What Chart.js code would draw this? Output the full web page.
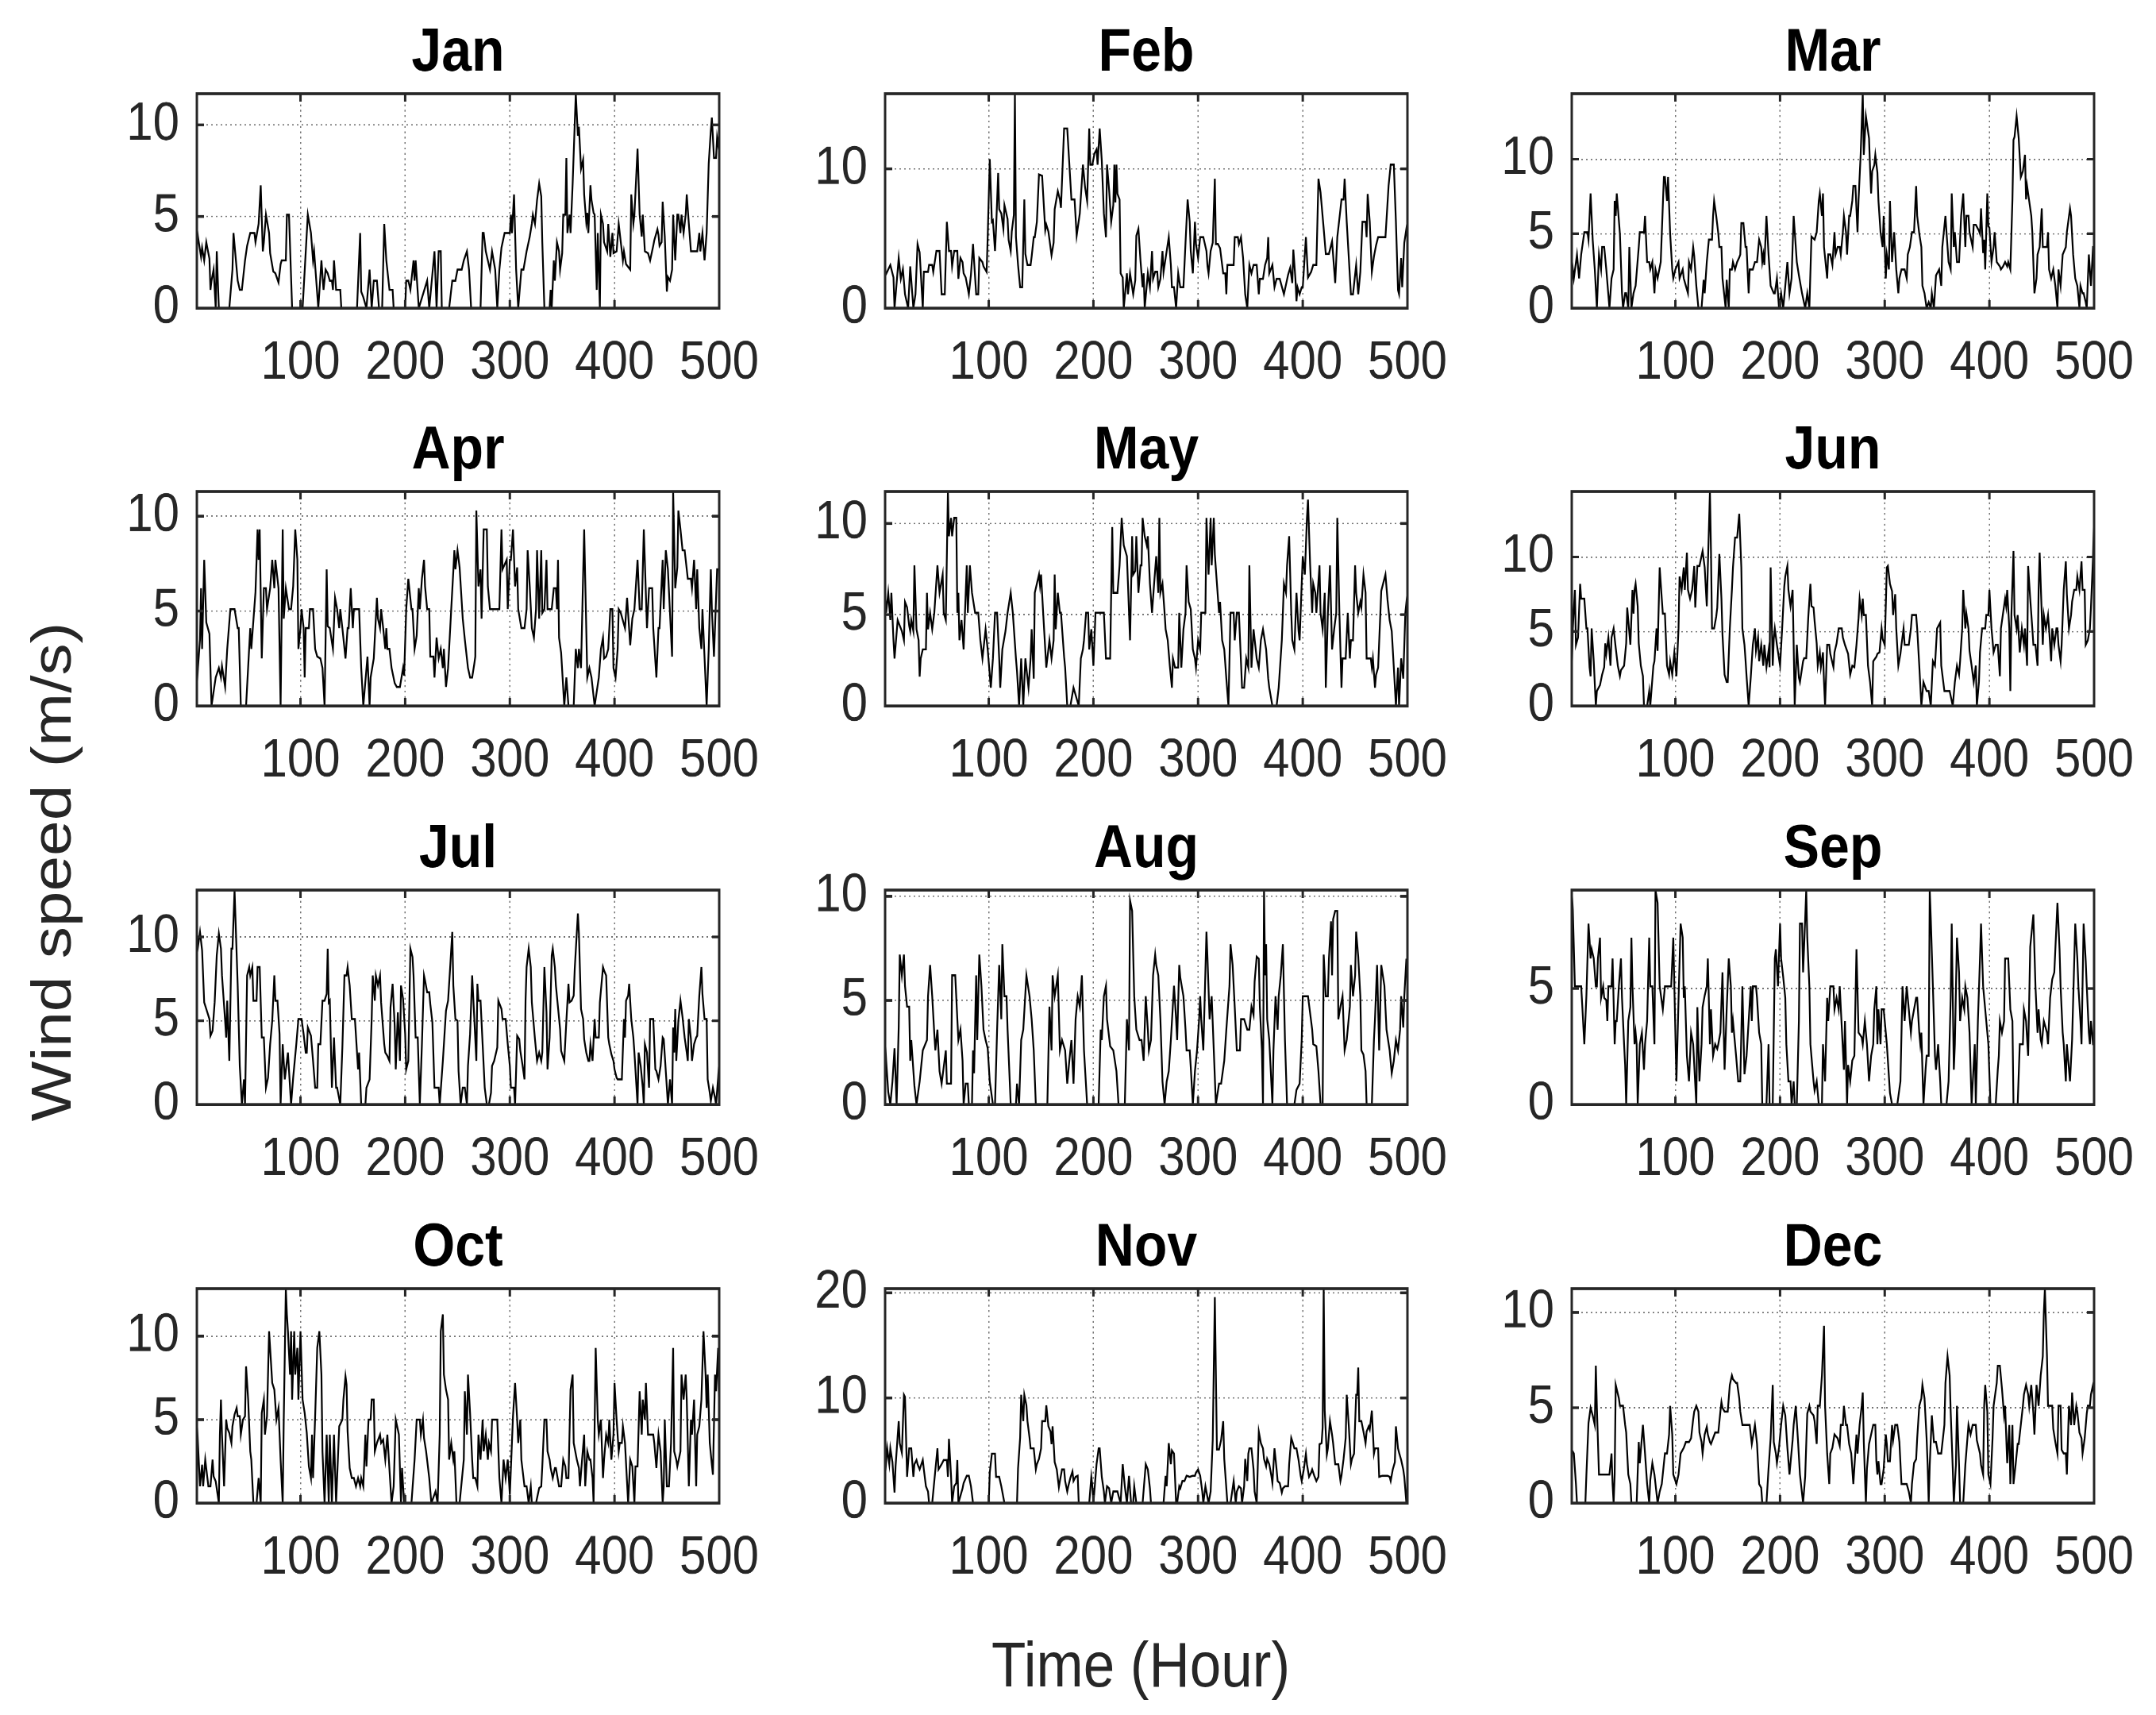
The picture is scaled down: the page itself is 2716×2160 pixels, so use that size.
<!DOCTYPE html>
<html><head><meta charset="utf-8">
<script src="https://cdn.jsdelivr.net/npm/chart.js@4.4.0/dist/chart.umd.min.js"></script>
<style>
html,body{margin:0;padding:0;background:#fff;}
#root{position:relative;width:2716px;height:2160px;background:#fff;overflow:hidden;font-family:'Liberation Sans',Arial,sans-serif;}
#root canvas{position:absolute;transform-origin:0 0;}
.lab{position:absolute;color:#262626;white-space:nowrap;line-height:1;}
</style></head><body><div id="root">
<div class="lab" id="xlab">Time (Hour)</div>
<div class="lab" id="ylab">Wind speed (m/s)</div>
</div>
<script>
const monthNames = ['Jan','Feb','Mar','Apr','May','Jun','Jul','Aug','Sep','Oct','Nov','Dec'];
const hourTicks = [100,200,300,400,500];
const speedTickStep = [5,10,5,5,5,5,5,5,5,5,10,5];

// [hour, wind speed m/s]
const jan = [[1,4.4],[2,3.9],[5,2.8],[6,3.3],[8,2.6],[10,3.6],[13,2.7],[14,1.0],[15,1.5],[17,2.1],[19,0],[20,3.1],[22,0],[32,0],[35,2.1],[36,4.1],[40,1.5],[42,1.0],[44,1.0],[47,2.6],[49,3.4],[52,4.1],[56,4.1],[57,3.6],[60,4.6],[62,6.7],[64,3.1],[65,3.6],[67,5.1],[70,4.1],[71,3.0],[74,2.0],[76,1.9],[79,1.4],[81,2.4],[82,2.6],[86,2.6],[87,5.1],[89,5.1],[92,0],[102,0],[107,5.1],[110,4.1],[112,2.6],[113,3.1],[117,0],[120,2.6],[122,1.0],[124,2.1],[126,1.9],[128,1.5],[130,1.5],[131,1.0],[132,2.6],[134,1.0],[138,1.0],[139,0],[154,0],[157,4.1],[158,0.9],[160,0.6],[162,0.2],[163,0],[166,2.1],[168,0],[170,1.5],[173,1.5],[175,0],[178,0],[180,4.6],[182,2.6],[185,1.0],[188,1.0],[189,0],[200,0],[201,1.5],[203,1.5],[205,1.0],[208,2.6],[209,1.5],[210,2.6],[213,0],[221,1.5],[223,0],[228,3.1],[230,0],[232,3.1],[234,3.1],[235,0],[242,0],[245,1.5],[248,1.5],[250,2.1],[254,2.1],[256,2.6],[259,3.1],[261,2.1],[263,0],[272,0],[274,4.1],[275,4.1],[277,3.1],[279,2.6],[281,2.1],[283,3.1],[286,2.1],[288,0],[290,2.1],[292,3.3],[295,4.1],[300,4.1],[301,5.1],[302,4.1],[304,6.2],[306,2.1],[308,0],[311,2.1],[313,2.1],[316,3.1],[319,3.9],[321,4.6],[322,5.1],[324,4.6],[326,5.9],[328,6.8],[330,6.1],[331,3.6],[333,0],[338,0],[339,1.0],[340,0],[342,2.6],[343,1.5],[345,3.6],[347,3.1],[348,2.1],[350,3.0],[351,5.1],[353,5.1],[354,8.2],[355,4.1],[357,5.1],[358,4.1],[360,6.8],[363,11.7],[365,9.4],[366,9.9],[368,7.6],[370,8.1],[371,6.2],[373,4.7],[374,5.2],[375,4.1],[377,6.7],[378,5.9],[380,5.2],[381,5.1],[383,1.0],[384,4.1],[386,0],[387,5.1],[389,4.6],[390,3.6],[393,3.1],[394,4.6],[396,2.8],[398,4.1],[399,3.0],[402,3.1],[404,4.6],[406,3.6],[408,2.6],[409,3.1],[411,2.4],[415,2.1],[416,6.2],[418,4.6],[419,5.1],[422,8.7],[424,5.1],[426,3.9],[427,5.1],[429,3.1],[432,3.0],[434,2.6],[437,3.4],[438,3.7],[441,4.3],[442,4.0],[443,3.4],[445,3.6],[446,5.8],[448,3.9],[450,0.9],[451,1.7],[453,1.5],[455,2.1],[456,5.1],[458,2.6],[460,5.1],[461,5.1],[463,4.1],[464,5.1],[466,4.1],[468,5.1],[469,6.2],[471,4.6],[473,3.1],[479,3.1],[481,4.1],[482,3.1],[484,4.1],[486,2.6],[488,4.1],[490,7.9],[492,9.7],[493,10.4],[495,8.2],[497,8.2],[498,9.3],[500,8.5]];
const feb = [[1,2.3],[6,3.1],[9,2.2],[10,0],[14,3.6],[16,2.1],[18,2.8],[20,1.0],[23,0],[25,3.0],[28,0],[30,1.0],[32,4.6],[34,4.0],[37,0],[38,2.6],[42,2.6],[43,3.1],[46,3.1],[47,2.6],[50,4.1],[53,4.1],[55,1.0],[58,1.0],[60,6.2],[62,4.1],[64,4.1],[65,3.0],[67,4.1],[70,4.1],[71,2.1],[73,3.6],[75,3.3],[76,2.5],[78,2.2],[81,1.0],[83,2.4],[85,4.6],[88,1.0],[90,1.0],[91,3.6],[94,3.3],[95,3.0],[98,2.6],[99,5.1],[101,10.7],[103,6.2],[104,6.3],[106,4.1],[107,5.7],[109,9.7],[110,7.1],[112,6.8],[114,5.7],[115,7.4],[118,6.4],[119,4.9],[121,4.1],[122,5.5],[124,6.7],[125,15.4],[126,5.1],[128,3.1],[130,1.5],[132,1.5],[134,7.8],[135,3.9],[137,3.1],[140,3.1],[141,3.7],[143,5.1],[144,5.1],[146,6.2],[148,9.6],[151,9.5],[154,5.6],[155,6.0],[157,5.5],[160,3.8],[162,4.7],[163,7.1],[166,8.4],[168,7.8],[169,7.2],[172,12.9],[175,12.9],[179,7.8],[182,7.8],[184,5.2],[187,6.8],[190,10.3],[192,8.7],[194,7.7],[196,12.9],[197,10.3],[199,10.3],[201,11.1],[203,11.4],[204,10.3],[206,12.9],[208,10.6],[210,6.8],[212,5.1],[213,10.3],[215,8.5],[217,6.2],[219,7.4],[220,10.3],[221,7.6],[222,10.3],[223,8.2],[225,7.8],[226,2.5],[228,2.2],[229,0],[232,2.5],[233,1.0],[235,2.5],[238,1.0],[240,2.0],[241,5.2],[243,5.7],[245,3.4],[247,1.5],[248,2.5],[249,0],[252,2.5],[254,1.5],[256,4.1],[257,2.1],[259,2.6],[261,2.6],[262,1.5],[264,2.1],[266,4.1],[267,2.6],[270,4.1],[272,5.1],[274,3.1],[275,1.5],[277,1.5],[279,0],[281,2.5],[283,1.5],[286,1.5],[288,4.7],[290,7.8],[292,6.2],[293,4.1],[295,2.5],[297,6.2],[298,4.6],[300,3.6],[302,5.1],[305,5.1],[308,4.1],[309,3.0],[310,2.5],[312,4.1],[314,4.7],[316,9.3],[317,4.6],[319,4.6],[321,4.3],[324,2.5],[326,2.5],[327,1.0],[328,3.1],[334,3.1],[335,5.1],[338,5.1],[339,4.6],[341,5.1],[343,3.6],[345,1.0],[347,0],[349,3.1],[351,2.5],[353,3.1],[356,3.1],[358,1.0],[359,2.1],[362,2.1],[364,3.1],[366,3.6],[367,5.1],[368,2.5],[371,3.1],[373,1.5],[375,2.1],[378,2.1],[382,1.0],[386,2.4],[388,2.9],[390,1.8],[391,4.2],[393,2.1],[394,0.5],[395,1.5],[397,1.0],[399,1.5],[400,1.5],[403,5.1],[405,2.2],[408,2.6],[410,3.1],[413,3.1],[415,9.3],[417,8.3],[420,5.7],[422,3.9],[425,3.9],[428,4.8],[431,1.8],[433,5.1],[436,7.1],[437,7.8],[439,7.8],[440,9.3],[442,6.2],[446,1.0],[448,1.0],[451,3.1],[453,1.0],[455,2.6],[457,6.2],[460,6.2],[461,5.1],[462,8.2],[464,6.2],[466,2.6],[468,3.7],[470,4.5],[472,5.1],[479,5.1],[482,8.8],[484,10.3],[487,10.3],[489,6.2],[491,1.3],[492,1.0],[494,3.6],[495,1.5],[497,4.7],[500,6.2]];
const mar = [[1,3.3],[3,2.0],[6,3.6],[8,2.0],[10,3.6],[12,4.6],[13,5.1],[16,5.1],[17,4.6],[19,7.7],[21,4.6],[23,2.6],[25,0],[27,3.6],[29,2.6],[30,4.1],[32,4.1],[34,2.6],[37,0],[39,2.0],[41,2.6],[42,7.2],[43,6.2],[44,7.7],[47,5.0],[49,1.0],[50,0],[52,1.0],[53,1.0],[55,0],[56,4.1],[58,0],[60,1.0],[62,1.5],[65,4.1],[66,5.1],[70,5.1],[71,6.2],[73,3.1],[75,3.1],[76,2.6],[78,3.1],[80,1.0],[81,2.6],[83,2.0],[86,3.1],[89,8.8],[90,8.8],[92,7.2],[93,8.8],[95,5.0],[97,2.6],[98,2.0],[100,2.6],[103,3.1],[104,2.0],[107,2.6],[108,2.0],[110,1.5],[112,1.0],[113,3.1],[115,2.6],[117,4.1],[118,3.5],[120,1.5],[122,0],[125,0],[127,1.9],[128,1.0],[130,3.1],[132,4.6],[135,4.6],[136,6.2],[137,7.2],[139,6.2],[141,5.0],[142,4.1],[144,4.1],[145,2.0],[148,0],[149,1.9],[151,0],[152,2.6],[154,2.6],[155,3.1],[157,2.6],[159,3.1],[161,3.4],[162,3.6],[163,5.7],[165,5.7],[167,4.1],[168,4.1],[170,1.0],[171,2.6],[174,2.6],[176,3.1],[178,3.1],[180,4.6],[182,4.1],[183,3.1],[184,3.6],[185,2.9],[187,6.2],[189,3.6],[191,1.5],[194,1.0],[195,1.0],[197,2.0],[199,0],[201,1.0],[203,0],[205,1.5],[207,3.1],[209,1.0],[211,2.0],[213,6.2],[216,3.1],[218,2.2],[221,1.0],[224,0],[226,1.0],[228,0],[230,4.8],[233,4.6],[235,5.1],[237,7.2],[238,7.7],[240,6.2],[241,7.7],[242,4.1],[245,2.0],[246,3.6],[248,3.6],[250,2.9],[252,5.1],[253,3.6],[255,4.1],[257,4.1],[258,3.6],[260,5.1],[261,6.2],[263,5.1],[264,3.6],[266,6.2],[267,6.2],[269,7.2],[270,8.2],[272,8.2],[274,5.1],[275,7.3],[277,10.3],[279,14.4],[280,10.3],[282,12.9],[285,11.4],[286,9.4],[287,7.7],[288,9.2],[290,9.6],[291,10.3],[293,9.1],[294,7.2],[296,5.1],[298,4.1],[299,6.2],[301,2.0],[302,3.6],[304,2.6],[305,7.2],[307,3.1],[309,5.1],[311,2.6],[313,1.0],[314,2.0],[316,2.6],[319,2.6],[321,2.0],[322,3.6],[324,4.1],[326,5.1],[328,5.1],[330,8.2],[331,6.2],[333,5.0],[335,4.1],[336,1.5],[338,1.0],[340,0],[342,0.4],[344,0],[345,1.0],[347,0],[349,2.2],[352,2.6],[354,1.5],[355,4.1],[358,6.2],[359,5.1],[361,3.1],[363,2.6],[364,7.7],[366,4.1],[367,5.1],[369,3.1],[371,3.1],[373,6.2],[375,7.7],[377,4.1],[378,6.2],[380,6.2],[381,5.1],[384,4.1],[385,5.6],[387,5.6],[390,5.2],[391,5.0],[392,6.7],[394,3.7],[395,4.6],[396,2.6],[398,7.7],[399,5.5],[400,5.4],[402,3.1],[404,4.1],[405,5.1],[407,3.1],[410,2.8],[411,2.6],[413,2.8],[415,3.1],[417,2.8],[418,3.1],[420,2.6],[422,7.3],[423,11.3],[424,11.5],[426,12.9],[428,11.4],[430,8.8],[432,9.2],[434,10.3],[435,7.3],[436,8.2],[438,7.2],[440,6.2],[441,5.1],[443,1.0],[445,2.0],[446,3.6],[448,4.1],[450,6.7],[451,4.1],[455,4.1],[456,5.1],[457,2.6],[459,2.0],[461,2.6],[463,1.5],[465,0],[466,2.6],[468,1.5],[470,3.6],[473,4.1],[474,5.1],[477,6.7],[478,6.2],[480,3.6],[482,2.0],[484,1.5],[486,0],[487,1.5],[489,1.0],[490,1.0],[492,0.4],[493,0],[495,3.6],[497,1.5],[499,4.1],[500,4.1]];
const apr = [[1,1.0],[2,2.0],[4,3.5],[5,6.2],[6,3.0],[8,7.7],[10,4.4],[13,3.8],[15,0],[19,1.5],[22,2.0],[24,1.5],[25,2.1],[28,1.0],[30,3.0],[33,5.1],[37,5.1],[40,4.1],[41,4.1],[43,0],[48,0],[52,4.1],[53,3.0],[57,6.0],[59,9.3],[60,7.7],[61,9.3],[63,2.5],[65,6.2],[67,6.2],[68,5.1],[71,6.2],[73,7.7],[75,6.2],[76,7.7],[79,6.2],[81,0],[83,9.3],[84,4.6],[86,6.2],[89,5.1],[91,5.1],[93,6.3],[95,9.3],[97,7.7],[98,3.0],[100,4.1],[101,5.1],[103,4.1],[104,1.5],[105,4.1],[108,4.1],[109,5.1],[112,5.1],[114,3.0],[116,2.6],[119,2.5],[121,2.0],[123,0],[125,7.2],[126,4.2],[128,4.1],[131,3.0],[133,5.7],[135,5.1],[137,4.1],[138,5.1],[140,4.1],[143,2.5],[145,4.1],[146,4.1],[148,6.2],[150,4.1],[151,5.1],[156,5.1],[158,2.0],[160,0],[164,2.6],[166,0],[167,1.5],[170,2.5],[173,5.7],[174,4.6],[176,4.1],[177,5.1],[179,4.1],[181,3.0],[182,4.1],[183,3.0],[185,3.0],[187,2.0],[190,1.2],[192,1.0],[195,1.0],[198,2.0],[199,1.6],[201,5.1],[203,6.7],[206,5.1],[207,5.1],[209,3.0],[211,3.7],[213,6.2],[214,5.1],[216,6.7],[218,7.7],[219,6.3],[221,5.1],[223,5.1],[224,2.6],[227,2.6],[228,1.5],[230,3.6],[232,2.5],[234,3.0],[236,2.0],[237,3.0],[239,1.0],[241,2.0],[244,5.1],[246,7.1],[247,8.2],[248,7.2],[250,8.2],[252,7.3],[255,4.6],[257,3.5],[260,2.0],[262,1.5],[264,1.5],[266,2.2],[267,2.6],[268,10.3],[270,6.3],[272,7.2],[273,4.6],[275,9.3],[278,9.3],[279,6.3],[281,5.1],[289,5.1],[290,5.1],[292,9.3],[293,7.2],[297,7.7],[298,5.1],[300,7.7],[301,7.7],[303,9.3],[305,6.3],[307,7.3],[308,5.1],[311,4.1],[314,4.1],[316,5.1],[317,8.2],[319,6.3],[321,4.1],[323,3.6],[325,5.1],[326,8.2],[328,4.6],[330,8.2],[331,4.9],[333,5.1],[335,7.7],[336,5.1],[340,5.1],[342,6.2],[344,6.2],[345,5.1],[346,7.7],[347,3.6],[349,2.8],[352,0],[354,1.5],[356,0],[361,0],[363,3.0],[365,2.0],[366,3.0],[368,2.0],[371,9.3],[374,1.5],[376,2.0],[378,1.5],[381,0],[385,1.5],[387,3.0],[389,3.6],[390,2.5],[392,2.6],[394,3.0],[396,5.1],[398,5.1],[399,2.0],[401,1.5],[403,3.0],[404,5.1],[406,4.9],[409,4.3],[410,4.1],[412,5.7],[415,3.2],[417,4.6],[419,5.1],[422,7.7],[424,5.1],[426,5.1],[428,9.3],[431,4.1],[433,6.2],[436,6.2],[437,4.1],[440,1.5],[442,4.1],[443,4.1],[446,7.7],[447,5.1],[449,8.2],[451,7.2],[455,2.6],[456,11.3],[458,6.2],[460,7.3],[461,10.3],[463,9.3],[465,8.2],[467,8.2],[468,7.7],[470,6.7],[473,6.7],[474,6.2],[476,7.7],[478,5.1],[479,7.2],[481,4.1],[483,3.0],[484,5.1],[488,0],[490,3.0],[492,7.2],[493,5.1],[495,2.6],[498,7.2],[500,7.2]];
const may = [[1,6.2],[2,5.1],[4,6.2],[6,4.7],[7,6.2],[9,3.6],[10,2.6],[13,4.7],[15,4.4],[17,4.1],[19,3.6],[20,5.7],[22,5.4],[24,4.4],[25,4.1],[26,4.7],[28,4.1],[29,7.7],[31,4.2],[33,3.6],[34,1.6],[35,2.6],[37,3.1],[40,3.1],[41,6.2],[42,4.2],[44,5.1],[46,4.2],[48,5.1],[51,7.7],[53,6.2],[56,7.2],[57,5.1],[59,4.7],[61,11.75],[62,9.3],[64,10.3],[65,9.3],[67,10.3],[69,10.3],[70,5.1],[71,6.2],[72,3.6],[74,4.7],[76,3.1],[79,7.7],[80,5.1],[82,7.7],[84,6.2],[87,5.1],[90,5.1],[92,3.6],[94,2.6],[97,4.2],[99,3.1],[102,1.0],[104,2.6],[106,5.1],[108,5.1],[110,2.6],[111,1.0],[113,3.1],[116,4.1],[118,5.1],[121,6.2],[123,5.1],[126,2.6],[127,1.9],[129,0],[131,2.6],[133,0],[135,2.6],[138,1.0],[140,2.6],[141,4.2],[143,1.5],[144,6.2],[146,6.7],[148,7.2],[149,6.6],[150,7.2],[152,5.1],[155,2.1],[158,3.6],[160,2.6],[162,3.6],[163,7.2],[164,4.2],[166,6.2],[168,5.1],[169,5.1],[172,2.7],[173,2.1],[175,0],[178,0],[181,1.0],[183,0.6],[186,0],[188,2.6],[190,3.1],[191,3.6],[193,5.1],[195,5.1],[196,3.1],[198,4.2],[200,2.2],[202,5.1],[210,5.1],[212,2.6],[216,2.6],[218,9.8],[219,6.2],[223,6.2],[225,7.7],[227,10.3],[229,8.8],[232,8.2],[233,6.7],[235,3.6],[237,9.3],[238,7.2],[240,7.4],[241,9.3],[243,6.2],[245,7.7],[246,7.7],[247,10.3],[249,9.3],[251,8.8],[252,9.3],[254,6.7],[256,5.1],[258,6.7],[260,8.2],[262,6.2],[263,10.3],[264,6.2],[266,6.7],[268,5.1],[269,4.2],[271,3.6],[273,2.2],[275,1.0],[276,2.6],[278,2.1],[281,2.1],[282,5.1],[284,2.1],[286,4.2],[288,5.1],[289,7.7],[291,5.7],[293,5.3],[295,3.1],[297,2.6],[298,2.1],[300,3.6],[302,3.1],[303,5.1],[307,5.1],[308,10.3],[310,7.2],[312,10.3],[313,7.7],[315,10.3],[316,8.3],[318,6.7],[320,5.1],[321,5.7],[323,3.6],[325,3.1],[327,1.5],[329,0],[331,5.1],[334,5.1],[335,3.6],[337,5.1],[339,5.1],[342,1.0],[344,1.0],[346,2.6],[348,2.1],[349,7.7],[351,2.1],[353,4.2],[356,2.6],[358,2.1],[360,3.6],[362,4.2],[365,3.1],[367,1.5],[368,1.0],[371,0],[375,0],[377,1.0],[380,3.6],[381,5.1],[382,6.7],[384,6.2],[385,7.7],[387,9.3],[389,5.1],[390,3.6],[392,3.1],[394,6.2],[396,4.1],[397,3.6],[399,6.7],[400,8.2],[402,7.2],[404,10.3],[405,11.3],[407,7.8],[409,5.1],[410,6.7],[412,6.2],[413,5.1],[416,7.7],[417,5.1],[419,4.2],[421,6.2],[422,1.0],[424,5.1],[426,7.7],[428,3.1],[430,4.2],[432,5.1],[433,10.3],[435,5.1],[437,1.0],[438,2.6],[441,2.6],[443,5.1],[445,2.6],[446,3.6],[448,3.6],[450,7.7],[451,6.2],[453,5.1],[455,5.7],[456,5.4],[458,7.2],[460,6.2],[461,2.6],[465,2.6],[466,2.1],[467,2.6],[469,1.0],[470,1.7],[472,2.1],[475,6.3],[479,7.2],[481,5.8],[483,4.7],[485,4.1],[487,2.1],[489,0],[491,2.1],[492,0],[494,2.6],[496,1.5],[498,5.1],[500,6.2]];
const jun = [[1,2.0],[2,5.2],[4,7.8],[5,4.1],[7,4.6],[9,8.2],[10,7.2],[13,7.2],[15,5.2],[16,5.2],[18,2.6],[19,2.0],[20,5.2],[22,3.0],[24,0],[25,1.0],[28,1.4],[30,2.1],[32,2.6],[33,4.2],[34,3.5],[36,4.6],[38,2.7],[39,4.6],[41,5.2],[43,3.9],[45,2.7],[47,2.0],[48,2.4],[51,2.7],[53,4.2],[54,6.6],[57,4.1],[59,7.8],[60,6.2],[61,7.8],[62,8.2],[64,6.7],[65,4.2],[67,2.7],[69,2.0],[70,0],[73,0],[75,1.0],[76,0],[79,2.7],[80,3.0],[82,5.2],[83,3.7],[85,9.3],[87,7.2],[88,6.2],[90,6.2],[92,2.7],[94,2.1],[95,3.0],[97,2.1],[99,3.6],[101,2.0],[103,5.2],[104,8.7],[106,7.8],[108,9.3],[109,7.8],[111,10.3],[112,7.8],[114,7.2],[116,7.8],[118,9.4],[119,6.6],[121,9.4],[123,9.4],[126,10.4],[128,9.3],[130,6.7],[131,9.3],[133,14.4],[134,10.4],[135,5.2],[137,5.2],[139,6.0],[140,6.6],[142,10.2],[144,7.2],[145,4.8],[147,2.1],[149,1.6],[150,1.6],[152,5.2],[154,7.8],[155,9.3],[157,11.3],[159,11.3],[161,12.9],[163,9.3],[164,5.2],[166,4.1],[167,3.1],[168,2.0],[170,0],[172,1.9],[174,4.1],[176,5.2],[177,3.7],[179,4.6],[180,3.0],[182,4.1],[184,2.7],[185,4.1],[187,2.6],[189,3.7],[190,2.6],[191,9.3],[193,2.7],[194,4.5],[195,5.2],[197,4.1],[200,2.7],[202,5.2],[204,8.0],[205,8.7],[207,9.4],[208,7.8],[210,6.7],[212,7.8],[213,4.1],[214,0],[216,4.1],[218,1.9],[219,1.6],[222,3.0],[223,3.2],[225,3.2],[227,6.0],[229,8.2],[230,6.7],[232,6.6],[233,5.7],[235,4.2],[236,2.7],[238,3.6],[239,2.6],[241,3.6],[242,1.6],[243,0],[245,4.1],[247,4.1],[248,3.5],[251,2.6],[252,3.6],[254,4.2],[256,5.2],[259,5.2],[260,4.6],[262,4.1],[265,3.5],[267,2.1],[269,2.7],[271,2.6],[273,4.1],[275,5.9],[276,7.2],[278,6.1],[279,7.2],[280,6.1],[282,6.1],[284,2.7],[286,1.6],[288,0],[289,3.0],[292,3.3],[293,3.5],[295,3.6],[297,5.2],[298,4.5],[300,4.1],[302,9.3],[303,9.4],[305,8.2],[307,7.7],[308,6.1],[310,7.5],[311,5.2],[313,2.7],[315,3.5],[316,4.1],[318,5.2],[319,4.1],[323,4.1],[325,5.2],[326,6.1],[330,6.1],[331,5.2],[333,2.7],[335,0],[337,1.6],[340,1.0],[342,1.0],[344,0],[346,3.0],[348,2.7],[350,5.2],[353,5.6],[354,2.7],[357,1.0],[362,1.0],[365,0],[367,1.6],[369,2.7],[371,2.1],[372,3.0],[374,5.2],[375,7.8],[377,5.2],[378,6.2],[380,5.2],[381,3.7],[383,2.7],[385,1.6],[387,2.7],[388,0],[390,1.6],[391,3.6],[393,5.2],[396,5.2],[397,6.1],[399,6.1],[400,7.8],[402,5.2],[404,3.6],[406,4.1],[408,4.1],[410,2.0],[411,5.2],[413,6.2],[415,7.2],[416,6.7],[417,7.8],[419,5.2],[420,1.0],[421,6.1],[423,10.4],[424,6.1],[426,5.2],[427,6.1],[429,3.6],[431,5.2],[433,4.1],[434,5.2],[436,2.7],[437,9.4],[439,7.2],[441,5.2],[442,4.1],[444,4.1],[446,2.7],[447,7.8],[448,10.3],[450,6.2],[451,4.1],[452,6.1],[454,5.2],[456,6.1],[457,5.2],[459,3.0],[460,5.2],[462,4.1],[464,5.2],[465,5.2],[466,4.1],[468,3.0],[469,4.1],[471,7.8],[473,9.7],[474,7.5],[476,5.2],[478,6.1],[479,7.0],[481,7.8],[483,7.8],[484,8.7],[486,7.8],[488,9.7],[489,7.8],[491,7.8],[492,4.1],[494,4.4],[496,5.2],[497,6.6],[499,10.0],[500,12.9]];
const jul = [[1,10.3],[2,9.4],[4,10.3],[6,9.2],[8,6.1],[10,5.7],[12,5.3],[13,5.1],[14,4.1],[16,4.4],[18,6.1],[20,8.9],[22,10.2],[24,9.3],[25,7.7],[28,5.0],[29,4.0],[30,6.2],[32,2.6],[34,9.3],[35,9.3],[37,12.8],[40,7.1],[42,2.3],[44,0],[46,1.5],[47,0],[49,7.7],[51,8.2],[52,7.7],[54,8.2],[55,6.2],[58,6.2],[59,8.2],[61,8.2],[63,4.0],[65,4.0],[67,1.0],[69,1.6],[71,3.6],[73,5.0],[75,7.7],[76,6.2],[78,6.2],[80,4.2],[81,0],[83,3.6],[85,1.5],[88,3.1],[91,0],[93,1.6],[96,3.6],[98,5.1],[101,5.1],[103,4.2],[105,3.1],[106,3.1],[107,4.6],[110,4.1],[112,2.6],[114,1.0],[116,1.0],[117,3.6],[119,3.6],[121,6.2],[123,6.2],[125,6.6],[126,9.3],[127,6.1],[128,6.2],[130,1.0],[132,4.0],[134,1.0],[135,1.0],[138,0],[140,3.4],[142,7.7],[144,7.7],[145,8.2],[147,7.1],[149,5.1],[152,5.1],[154,3.1],[155,2.1],[156,3.1],[158,0],[162,0],[163,1.0],[166,1.5],[168,5.1],[169,7.7],[171,6.2],[172,7.7],[174,7.1],[176,7.7],[177,6.1],[180,3.6],[181,3.1],[183,2.9],[185,2.6],[186,5.8],[188,7.2],[190,4.7],[191,2.1],[193,5.5],[195,2.6],[196,7.1],[198,6.3],[200,4.2],[201,2.1],[203,2.6],[205,9.3],[207,8.8],[208,7.7],[210,4.0],[212,4.0],[214,0],[216,3.6],[218,7.7],[219,7.4],[221,6.7],[223,6.7],[224,6.0],[226,4.9],[228,1.0],[232,1.0],[233,0],[236,2.6],[237,3.6],[239,5.6],[241,6.2],[243,8.2],[245,10.3],[246,7.1],[248,5.1],[250,5.0],[251,2.0],[253,0],[255,1.0],[257,1.0],[259,0],[260,2.3],[262,4.2],[264,7.7],[266,5.2],[268,2.6],[269,7.2],[270,6.2],[272,6.2],[274,3.6],[276,1.0],[278,0],[280,0],[282,0.7],[283,2.3],[285,2.6],[288,3.4],[289,6.2],[292,5.7],[293,5.1],[296,5.1],[298,3.6],[300,2.3],[301,1.0],[304,1.0],[305,0],[307,4.1],[309,3.9],[310,3.2],[312,2.4],[314,1.5],[315,6.2],[316,8.2],[318,9.3],[320,8.2],[321,6.1],[324,3.9],[326,2.6],[328,3.1],[330,2.6],[331,3.1],[333,8.2],[335,5.5],[336,2.1],[338,4.0],[340,8.9],[341,9.3],[343,8.2],[344,7.1],[346,5.8],[348,4.5],[349,3.2],[352,2.6],[354,5.0],[356,7.2],[357,6.1],[359,6.2],[361,6.5],[362,8.1],[365,11.4],[366,10.2],[368,5.7],[370,5.1],[371,3.9],[373,3.1],[375,2.6],[376,2.6],[377,3.6],[379,2.6],[381,5.1],[382,4.0],[385,4.0],[386,6.1],[389,8.2],[390,8.0],[392,7.7],[394,4.0],[395,3.6],[397,3.0],[399,2.6],[400,2.1],[402,1.6],[403,1.5],[407,1.5],[409,5.1],[410,4.0],[411,6.2],[413,6.5],[414,7.2],[416,5.1],[418,4.0],[419,3.1],[422,0],[423,3.1],[425,2.3],[427,1.0],[428,0],[429,3.6],[431,3.1],[433,1.0],[434,5.1],[437,5.1],[439,2.1],[440,2.0],[442,1.5],[444,2.3],[446,4.0],[447,3.9],[450,1.0],[451,0],[453,1.5],[455,0],[456,4.6],[457,3.1],[458,5.7],[459,2.6],[461,5.0],[463,6.2],[465,5.2],[467,4.0],[469,3.1],[470,2.6],[471,5.1],[473,3.9],[474,2.6],[476,3.6],[478,4.0],[479,4.1],[481,6.5],[483,8.2],[484,6.6],[486,5.1],[488,5.1],[489,1.5],[491,0.7],[492,0.2],[494,1.0],[496,0.4],[497,0],[499,1.6],[500,2.6]];
const aug = [[1,3.1],[2,2.1],[4,0.6],[6,0],[8,1.1],[10,2.7],[12,0],[14,3.7],[15,7.2],[17,6.2],[19,7.2],[20,5.7],[22,4.7],[24,4.7],[25,2.1],[26,3.1],[29,0.9],[31,0],[34,1.1],[37,2.6],[41,3.1],[42,5.2],[44,6.7],[46,5.2],[48,3.4],[49,2.6],[51,3.6],[53,1.6],[55,1.0],[57,1.8],[59,2.6],[60,1.0],[64,1.0],[65,6.2],[68,6.2],[70,4.1],[71,3.1],[73,3.6],[75,2.1],[76,0],[78,1.0],[80,1.0],[81,0],[84,0],[85,2.6],[86,1.5],[88,6.2],[89,3.1],[91,7.2],[93,5.7],[95,3.6],[97,3.1],[99,2.7],[101,1.1],[104,0],[106,0],[108,3.6],[110,6.7],[112,4.1],[113,7.7],[115,5.2],[117,5.2],[118,3.6],[121,0],[126,0],[127,1.0],[129,0],[131,3.1],[133,3.6],[136,6.2],[139,5.2],[141,4.1],[143,2.6],[145,0],[156,0],[158,4.7],[160,2.6],[161,6.2],[163,5.2],[166,6.2],[168,2.6],[170,3.1],[173,2.6],[175,1.0],[177,2.1],[179,3.1],[181,1.0],[183,4.1],[185,5.2],[187,4.7],[189,6.2],[191,2.6],[194,0],[205,0],[207,3.6],[208,3.1],[210,5.2],[212,5.7],[213,4.1],[216,2.8],[219,2.6],[222,1.6],[224,0],[230,0],[232,4.1],[234,2.6],[235,9.8],[237,9.3],[239,5.2],[241,3.6],[244,3.1],[246,3.1],[248,2.1],[250,5.2],[252,3.6],[253,2.6],[255,3.1],[257,6.2],[259,7.2],[260,6.7],[262,6.2],[264,4.1],[266,1.1],[268,0],[270,1.1],[272,1.6],[274,3.1],[277,5.7],[279,4.1],[280,3.1],[282,6.7],[283,6.1],[286,5.2],[288,3.6],[289,2.6],[292,2.6],[293,1.8],[295,0],[297,1.6],[299,2.6],[301,4.1],[302,5.2],[303,4.1],[305,2.6],[308,8.3],[309,7.0],[311,4.1],[313,5.2],[315,2.6],[317,0],[320,1.0],[322,1.0],[325,2.1],[327,3.6],[330,5.7],[331,7.7],[333,6.7],[335,4.7],[337,2.6],[340,2.6],[341,4.1],[344,4.1],[347,3.6],[349,3.6],[351,4.7],[353,4.3],[354,5.9],[356,7.1],[358,7.0],[359,4.7],[361,2.6],[362,0],[363,10.3],[364,6.2],[365,7.7],[366,4.1],[368,3.1],[371,0],[372,2.6],[374,5.2],[376,3.6],[377,5.2],[379,6.2],[381,7.7],[383,3.1],[385,0],[392,0],[394,0.7],[397,1.0],[399,3.1],[400,5.2],[405,5.2],[407,4.4],[409,3.6],[410,2.9],[413,2.8],[415,1.6],[417,0],[419,0],[420,7.2],[422,5.2],[424,5.2],[425,7.0],[427,8.8],[428,6.2],[429,8.9],[431,9.3],[433,9.3],[434,4.1],[436,4.7],[438,5.2],[440,2.6],[442,3.1],[445,4.7],[446,6.7],[448,5.2],[450,6.2],[451,8.3],[453,7.1],[455,5.2],[456,2.6],[458,2.4],[460,1.6],[461,0],[466,0],[468,3.1],[469,4.1],[471,6.7],[473,2.6],[475,6.7],[478,5.7],[480,3.6],[483,2.6],[485,1.5],[487,2.1],[489,3.1],[491,2.6],[493,3.6],[494,5.2],[496,3.7],[497,5.2],[499,7.0],[500,5.8]];
const sep = [[1,9.25],[2,8.4],[4,5.1],[10,5.1],[11,4.3],[13,2.6],[15,4.7],[17,7.8],[18,7.1],[19,6.3],[20,6.7],[22,6.3],[24,5.1],[25,5.1],[26,6.3],[28,7.2],[29,4.6],[31,5.1],[32,4.6],[34,4.5],[35,3.6],[36,5.1],[39,5.1],[40,6.3],[42,2.6],[43,3.6],[44,3.6],[46,5.1],[48,6.3],[49,4.6],[51,2.6],[52,1.7],[53,0],[55,3.6],[57,4.2],[58,7.2],[59,5.1],[61,2.6],[62,3.1],[63,2.6],[64,0],[66,2.6],[68,3.1],[70,1.5],[71,2.6],[73,3.6],[75,7.2],[76,5.1],[78,5.1],[80,2.6],[81,9.25],[83,8.7],[85,5.1],[88,4.1],[90,5.1],[96,5.1],[98,7.2],[101,1.0],[103,4.5],[105,7.8],[107,7.2],[108,4.6],[109,5.1],[111,2.1],[113,1.0],[115,3.1],[117,2.6],[120,0],[121,4.2],[123,1.0],[125,2.6],[126,4.2],[128,4.7],[130,5.1],[131,6.3],[133,2.6],[134,4.1],[136,2.1],[138,2.6],[140,2.4],[141,2.6],[143,3.1],[145,5.7],[147,1.5],[149,4.1],[151,6.3],[153,5.1],[154,3.1],[155,3.6],[158,2.1],[160,1.0],[162,1.0],[164,5.1],[166,1.3],[168,2.1],[170,3.6],[172,5.1],[173,3.6],[174,5.1],[177,5.1],[178,4.6],[180,3.1],[182,2.6],[183,0],[187,0],[189,2.6],[190,0],[193,0],[195,6.3],[196,6.7],[198,5.1],[200,7.8],[201,6.3],[203,5.5],[205,4.6],[206,2.6],[208,1.0],[210,1.0],[211,0],[213,1.0],[214,0],[216,0],[218,3.6],[219,7.8],[221,7.8],[222,5.7],[224,8.0],[225,9.25],[226,7.2],[228,5.1],[229,2.6],[232,1.0],[233,0.6],[235,1.0],[237,0],[240,0],[241,2.6],[243,1.0],[245,4.6],[246,3.6],[248,5.1],[251,5.1],[252,4.1],[254,4.6],[256,4.1],[257,5.1],[259,3.3],[261,1.5],[262,3.6],[264,0],[265,1.7],[267,1.0],[269,1.9],[271,2.1],[273,6.7],[275,3.1],[278,2.9],[279,2.6],[281,3.6],[283,2.6],[285,1.0],[287,2.1],[289,2.6],[290,4.1],[292,5.1],[293,2.6],[294,4.1],[296,2.6],[297,4.1],[299,4.1],[301,3.1],[302,2.6],[305,0.5],[307,0],[312,0],[315,1.0],[317,5.1],[319,3.6],[321,5.1],[323,4.1],[325,3.1],[326,3.6],[328,4.1],[330,4.6],[331,4.6],[333,3.1],[334,2.6],[335,3.1],[337,0],[339,1.5],[340,2.1],[342,2.1],[343,9.25],[344,8.0],[346,5.1],[348,2.1],[349,1.5],[351,2.6],[353,1.0],[354,0],[359,0],[361,1.0],[363,4.6],[364,7.8],[366,1.5],[367,2.6],[369,7.2],[371,5.7],[372,3.6],[374,4.6],[376,4.1],[377,5.1],[379,4.6],[381,3.1],[383,0],[386,2.6],[387,0],[389,3.6],[391,6.3],[392,7.8],[394,5.1],[396,4.1],[399,2.6],[401,0],[406,0],[408,1.5],[409,2.1],[410,3.6],[412,3.1],[414,3.6],[415,6.3],[418,6.3],[420,4.1],[422,3.6],[423,0],[427,0],[429,2.6],[432,2.6],[433,4.1],[435,3.6],[437,2.1],[439,6.8],[442,8.2],[444,5.1],[446,3.1],[447,4.1],[449,2.8],[450,2.6],[452,3.6],[455,3.1],[456,2.6],[458,4.6],[460,5.4],[462,5.7],[464,7.7],[465,8.7],[467,6.7],[468,5.1],[470,3.1],[471,2.6],[473,1.0],[474,2.6],[477,1.0],[479,2.8],[482,7.8],[484,6.3],[485,5.1],[487,3.6],[488,2.6],[490,7.8],[492,6.2],[493,5.1],[495,3.1],[496,2.6],[497,3.6],[499,2.6],[500,2.6]];
const oct = [[1,5.0],[2,3.6],[4,1.0],[6,2.3],[7,1.0],[9,2.6],[12,1.0],[14,1.0],[16,2.6],[17,1.6],[19,1.3],[22,0],[23,4.1],[24,6.2],[25,4.1],[27,1.0],[29,5.0],[30,4.5],[32,4.2],[34,3.6],[35,4.6],[37,5.3],[39,5.7],[40,5.2],[42,5.2],[43,4.1],[45,5.0],[47,5.2],[48,8.2],[50,6.2],[52,3.1],[53,2.6],[55,0],[58,0],[60,1.5],[62,0],[63,5.4],[65,6.2],[66,4.1],[68,5.2],[70,10.3],[73,7.2],[75,6.8],[77,5.0],[79,5.7],[81,2.6],[83,0],[84,5.0],[86,12.85],[87,11.3],[88,10.3],[90,7.7],[91,10.3],[92,6.2],[94,10.3],[95,7.7],[97,9.3],[98,6.2],[100,10.3],[102,6.2],[104,5.4],[106,4.2],[108,2.2],[110,1.5],[111,4.1],[112,1.5],[114,5.2],[116,9.3],[118,10.3],[120,7.7],[121,3.1],[123,0],[125,4.1],[127,0],[128,4.1],[130,0],[132,4.1],[134,0],[137,4.6],[140,5.0],[141,6.2],[143,7.6],[144,7.1],[145,4.3],[147,2.1],[149,1.5],[151,1.5],[153,1.0],[155,1.5],[157,1.0],[158,1.5],[160,1.0],[162,4.1],[163,2.2],[165,5.0],[167,5.0],[168,6.2],[170,6.2],[171,3.1],[173,3.6],[176,4.1],[177,3.6],[179,3.8],[181,2.6],[183,4.1],[185,2.0],[187,0],[189,1.0],[191,5.0],[193,4.4],[194,4.1],[196,0],[197,2.1],[199,0],[206,0],[209,2.6],[211,5.0],[214,5.0],[215,4.1],[217,5.0],[218,3.9],[220,3.1],[223,1.5],[225,0],[229,0.7],[231,0],[233,4.1],[234,10.3],[236,11.3],[237,7.7],[239,6.8],[241,6.2],[242,2.6],[244,3.6],[246,2.6],[247,3.1],[249,0],[252,0],[256,2.6],[257,6.7],[259,4.1],[260,7.7],[262,5.4],[264,2.6],[265,1.5],[267,1.5],[269,1.0],[270,4.1],[272,2.6],[274,5.0],[275,3.1],[277,4.1],[279,2.6],[280,3.6],[282,3.1],[283,5.0],[288,5.0],[290,1.5],[292,0],[294,2.6],[296,1.5],[298,2.6],[300,0.5],[303,5.2],[305,7.2],[307,5.0],[308,3.6],[310,5.0],[311,2.6],[314,1.0],[316,1.0],[318,0],[320,1.0],[321,0],[325,0],[328,0.9],[330,1.0],[331,2.2],[333,5.0],[335,5.0],[336,3.1],[338,2.6],[339,2.1],[341,1.5],[343,2.1],[344,2.1],[347,1.0],[349,1.0],[351,2.6],[353,2.2],[354,1.5],[356,1.5],[358,6.8],[360,7.7],[361,3.6],[364,2.6],[366,2.1],[367,1.0],[369,2.6],[371,4.1],[372,1.0],[374,3.1],[376,2.6],[377,2.6],[379,1.5],[380,0],[382,9.3],[384,5.0],[385,4.1],[387,5.0],[389,1.5],[390,2.6],[392,4.1],[394,3.6],[395,5.0],[397,2.6],[399,4.1],[400,7.2],[402,5.0],[404,3.1],[405,3.6],[407,3.6],[408,4.6],[410,3.6],[413,0],[415,2.6],[417,2.2],[419,0],[420,2.2],[422,2.2],[424,6.7],[426,4.1],[427,6.2],[429,5.0],[430,7.2],[432,4.1],[437,4.1],[438,3.6],[440,2.1],[442,4.1],[444,3.1],[446,0],[447,1.0],[448,5.0],[450,1.0],[452,1.0],[454,3.6],[456,9.3],[457,3.1],[459,2.6],[460,2.2],[463,3.1],[464,7.7],[466,6.2],[468,7.7],[469,6.2],[471,1.0],[473,5.0],[474,4.1],[476,6.2],[478,1.0],[479,4.1],[481,4.6],[483,6.2],[485,10.3],[487,7.7],[488,5.7],[489,7.7],[491,3.6],[493,2.3],[494,1.7],[496,7.7],[497,6.7],[499,9.3],[500,5.0]];
const nov = [[1,2.6],[3,5.2],[5,3.7],[6,5.2],[8,3.9],[10,1.0],[11,3.5],[14,7.8],[15,5.7],[17,4.8],[19,10.3],[20,10.1],[22,2.5],[24,5.2],[26,5.2],[28,2.5],[29,3.7],[31,4.1],[32,3.7],[34,3.2],[37,4.1],[38,3.2],[40,1.6],[42,1.1],[43,0],[46,0],[48,2.1],[51,5.2],[52,3.2],[55,3.7],[57,4.1],[60,4.1],[61,2.5],[62,6.1],[64,2.6],[65,0],[67,1.6],[69,1.9],[70,4.1],[71,0],[75,1.4],[76,1.9],[79,2.6],[81,2.6],[83,1.6],[85,0],[100,0],[101,2.9],[103,4.7],[106,4.7],[107,2.5],[110,2.5],[112,1.6],[115,0],[127,0],[128,3.3],[130,6.2],[131,10.3],[133,7.8],[134,10.3],[136,9.3],[137,7.8],[139,6.2],[140,5.2],[143,5.2],[145,3.2],[146,3.7],[148,4.2],[150,5.2],[151,7.8],[154,7.8],[155,9.3],[157,7.3],[159,6.8],[160,5.6],[161,7.3],[162,5.7],[163,3.9],[165,3.2],[167,1.5],[168,2.1],[170,3.2],[172,3.2],[173,2.1],[175,1.1],[176,1.6],[178,2.4],[180,3.0],[181,2.1],[183,2.5],[185,2.6],[186,0],[196,0],[198,2.5],[199,1.6],[200,0],[203,3.7],[205,5.2],[206,5.2],[208,2.5],[210,1.1],[211,0],[213,1.6],[215,1.4],[217,0],[219,1.1],[223,1.1],[224,0.7],[226,0],[228,3.7],[230,1.6],[232,0],[234,2.6],[236,0],[238,0],[239,1.6],[241,0],[247,0],[250,3.7],[252,3.2],[254,1.4],[255,0],[267,0],[269,2.6],[270,1.6],[272,5.7],[274,3.7],[275,5.0],[277,4.7],[279,0],[280,0],[282,1.6],[283,1.4],[285,2.1],[287,2.1],[289,2.6],[292,2.5],[295,2.6],[297,2.6],[298,2.9],[300,3.2],[302,2.6],[304,1.1],[305,0],[307,1.6],[310,0],[312,1.1],[314,6.0],[316,19.6],[318,5.1],[320,5.1],[322,6.0],[324,7.8],[325,4.2],[328,0],[331,0],[334,2.1],[336,0],[337,1.1],[339,1.6],[341,1.4],[342,0],[344,1.6],[345,4.2],[347,2.1],[348,4.7],[349,5.2],[351,5.2],[353,3.2],[354,1.1],[356,0],[358,6.8],[360,5.7],[362,5.2],[363,4.2],[365,3.5],[366,4.2],[368,3.7],[370,2.6],[371,1.9],[373,5.2],[375,3.2],[376,2.1],[378,1.9],[380,1.0],[381,1.4],[383,1.6],[386,1.6],[387,3.7],[389,6.2],[390,5.9],[392,5.2],[394,5.2],[396,4.1],[398,2.6],[399,2.1],[401,3.2],[403,4.7],[404,3.7],[406,2.5],[408,2.9],[409,3.2],[411,2.6],[413,2.1],[415,2.5],[416,5.6],[418,5.7],[419,7.2],[420,20.4],[421,8.8],[423,4.6],[424,5.2],[426,7.8],[428,6.5],[429,5.7],[431,3.7],[432,3.7],[434,3.7],[436,2.1],[437,2.6],[439,4.2],[441,6.2],[442,10.3],[444,7.3],[446,3.7],[447,4.2],[449,4.7],[451,10.3],[452,10.3],[453,12.9],[454,7.8],[456,7.8],[458,6.8],[460,5.7],[461,6.8],[463,7.3],[464,7.0],[466,8.8],[468,4.7],[469,5.2],[472,5.2],[473,2.5],[476,2.6],[479,2.6],[481,2.6],[483,2.5],[484,2.1],[486,3.2],[488,3.9],[489,7.3],[491,5.2],[492,4.8],[494,4.1],[496,3.2],[497,2.5],[499,0],[500,0]];
const dec = [[1,2.8],[3,2.6],[5,1.0],[6,0],[14,0],[15,1.5],[17,4.2],[19,5.0],[21,4.6],[23,4.1],[24,7.2],[25,5.0],[27,1.5],[37,1.5],[39,2.6],[40,1.0],[41,0],[42,1.5],[43,6.2],[46,5.5],[47,5.1],[50,5.1],[52,4.1],[53,3.7],[55,1.5],[57,1.0],[58,0],[63,0],[65,3.2],[66,2.1],[69,4.1],[71,2.6],[73,1.0],[75,0],[76,1.2],[78,2.1],[80,1.5],[81,1.0],[83,0],[85,0.6],[87,1.0],[90,2.6],[92,2.6],[94,3.6],[95,5.1],[97,3.6],[98,1.5],[101,1.0],[103,1.5],[105,2.6],[108,2.9],[110,3.2],[113,3.2],[115,3.4],[117,4.4],[118,4.8],[120,5.1],[122,4.8],[123,3.7],[125,3.2],[126,2.6],[128,3.6],[130,4.0],[131,3.6],[133,3.2],[134,3.1],[136,3.4],[138,3.7],[141,3.7],[143,4.8],[144,5.3],[145,5.0],[147,4.8],[150,4.8],[152,6.2],[154,6.7],[155,6.5],[158,6.3],[159,6.3],[161,5.5],[162,4.8],[164,4.1],[171,4.1],[173,3.1],[176,4.1],[178,3.1],[180,1.0],[182,0.8],[183,0],[187,0],[189,1.8],[191,3.4],[193,6.2],[194,3.2],[196,2.6],[197,2.1],[199,2.9],[201,4.1],[203,5.1],[205,4.6],[207,2.9],[209,1.5],[212,3.3],[213,4.1],[215,5.1],[217,3.4],[219,1.5],[222,0],[224,1.4],[226,4.7],[228,5.1],[229,4.8],[232,4.6],[233,4.3],[235,3.1],[236,5.1],[238,5.1],[240,6.7],[242,9.3],[243,5.1],[245,2.6],[247,1.0],[248,2.6],[250,2.9],[252,3.6],[255,3.4],[257,3.0],[258,4.1],[260,4.1],[261,5.1],[263,4.1],[264,4.1],[266,3.1],[268,2.6],[270,1.0],[273,3.6],[274,2.6],[276,4.1],[278,5.1],[279,5.8],[280,3.2],[282,0],[283,1.8],[285,3.1],[287,3.6],[289,4.1],[291,4.1],[292,2.2],[293,1.5],[294,2.2],[296,1.0],[297,1.0],[299,1.8],[301,3.6],[302,3.1],[303,2.2],[305,2.2],[307,4.1],[308,3.3],[310,4.1],[312,4.1],[314,3.2],[316,1.0],[321,1.0],[323,0.6],[325,0],[326,1.0],[328,2.1],[330,2.3],[331,3.4],[333,5.1],[335,5.5],[336,6.2],[338,5.5],[340,3.4],[341,2.0],[342,0],[343,2.0],[345,4.6],[347,3.2],[349,3.2],[351,2.6],[354,2.6],[357,4.1],[358,6.3],[360,7.7],[362,6.7],[363,4.8],[365,1.8],[366,0],[368,2.0],[369,5.1],[371,2.0],[372,0],[375,0],[377,2.0],[380,4.1],[382,3.6],[384,4.1],[387,4.1],[388,3.3],[391,2.6],[392,2.0],[394,1.5],[395,5.1],[396,6.2],[398,4.8],[399,1.5],[401,1.0],[403,3.4],[404,5.1],[407,6.3],[408,7.2],[410,7.2],[412,6.0],[414,4.6],[415,5.1],[417,2.1],[419,4.1],[420,1.0],[422,4.1],[423,1.0],[425,2.0],[427,3.1],[428,3.1],[430,4.1],[432,5.1],[433,5.7],[435,6.2],[437,5.7],[438,5.1],[440,6.2],[442,4.7],[443,3.6],[445,6.2],[446,5.7],[447,5.1],[449,6.7],[451,7.7],[452,10.0],[453,11.25],[455,7.7],[456,5.1],[460,5.1],[461,3.9],[463,3.2],[465,2.6],[466,5.1],[468,5.1],[469,2.8],[471,2.6],[473,2.6],[474,1.5],[476,5.1],[478,4.1],[479,5.8],[481,4.1],[483,5.1],[484,4.8],[486,3.7],[488,3.4],[489,2.6],[491,3.4],[493,4.7],[494,5.1],[496,5.1],[497,5.7],[499,6.2],[500,5.5]];

const series = [jan,feb,mar,apr,may,jun,jul,aug,sep,oct,nov,dec];

// layout (page pixels); the reference figure is slightly stretched vertically
const STRETCH = 1.13;
const plotLefts = [248,1115,1980];
const plotTops = [118,619,1121,1623];
const plotW = 658, plotH = 270;
const yAxisW = 130, rightPad = 70;
const xAxisH = 100 / STRETCH, titleSpace = 100 / STRETCH, plotHi = plotH / STRETCH;
const titleBaselineGap = 29 / STRETCH;
const FONT = "'Liberation Sans', Arial, Helvetica, sans-serif";
const TXT = '#262626';
const GRID = 'rgba(0,0,0,0.55)';

const root = document.getElementById('root');
const xl = document.getElementById('xlab');
xl.style.fontSize = '71px';
xl.style.left = '1437px'; xl.style.top = '2096px';
xl.style.transform = 'translate(-50%,-50%) scaleY(' + STRETCH + ')';
const yl = document.getElementById('ylab');
yl.style.fontSize = '71px';
yl.style.left = '64px'; yl.style.top = '1098px';
yl.style.transform = 'translate(-50%,-50%) scaleY(' + STRETCH + ') rotate(-90deg)';

const boxPlugin = {
  id: 'matlabBox',
  afterDraw(chart, args, opts) {
    const {ctx, chartArea: a, scales: {x, y}} = chart;
    ctx.save();
    ctx.font = 'bold 68px ' + FONT;
    ctx.fillStyle = '#000';
    ctx.textAlign = 'center';
    ctx.textBaseline = 'alphabetic';
    ctx.fillText(opts.title, (a.left + a.right) / 2, a.top - titleBaselineGap);
    ctx.strokeStyle = TXT;
    ctx.lineWidth = 3;
    ctx.strokeRect(a.left, a.top, a.right - a.left, a.bottom - a.top);
    const L = 9;
    ctx.beginPath();
    x.ticks.forEach(t => {
      const px = x.getPixelForValue(t.value);
      ctx.moveTo(px, a.bottom); ctx.lineTo(px, a.bottom - L);
      ctx.moveTo(px, a.top); ctx.lineTo(px, a.top + L);
    });
    y.ticks.forEach(t => {
      const py = y.getPixelForValue(t.value);
      ctx.moveTo(a.left, py); ctx.lineTo(a.left + L, py);
      ctx.moveTo(a.right, py); ctx.lineTo(a.right - L, py);
    });
    ctx.stroke();
    ctx.restore();
  }
};

function makeChart(cv, i, cw, ch) {
  cv.width = cw; cv.height = ch;
  cv.style.width = cw + 'px'; cv.style.height = ch + 'px';
  const pts = series[i];
  const yMax = Math.max(...pts.map(p => p[1]));
  const step = speedTickStep[i];
  return new Chart(cv, {
    type: 'line',
    data: { datasets: [{
      data: pts.map(p => ({x: p[0], y: p[1]})),
      borderColor: '#000', borderWidth: 2.2, pointRadius: 0, tension: 0, fill: false
    }]},
    options: {
      responsive: false, maintainAspectRatio: false, animation: false, events: [],
      devicePixelRatio: 2,
      layout: { padding: { left: 0, right: rightPad, top: titleSpace, bottom: 0 } },
      plugins: {
        legend: { display: false }, tooltip: { enabled: false }, title: { display: false },
        matlabBox: { title: monthNames[i] }
      },
      scales: {
        x: {
          type: 'linear', min: 1, max: 500,
          afterBuildTicks: s => { s.ticks = hourTicks.map(v => ({value: v})); },
          afterFit: s => { s.height = xAxisH; s.paddingLeft = 0; s.paddingRight = 0; },
          grid: { color: GRID, lineWidth: 1.5, drawTicks: false },
          border: { display: false, dash: [2, 4] },
          ticks: { font: { family: FONT, size: 60 }, color: TXT, padding: 26, maxRotation: 0, autoSkip: false }
        },
        y: {
          type: 'linear', min: 0, max: yMax,
          afterBuildTicks: s => {
            const t = [];
            for (let v = 0; v <= yMax + 1e-9; v += step) t.push({value: v});
            s.ticks = t;
          },
          afterFit: s => { s.width = yAxisW; s.paddingTop = 0; s.paddingBottom = 0; },
          grid: { color: GRID, lineWidth: 1.5, drawTicks: false },
          border: { display: false, dash: [2, 4] },
          ticks: { font: { family: FONT, size: 60 }, color: TXT, padding: 22 }
        }
      }
    },
    plugins: [boxPlugin]
  });
}

series.forEach((pts, i) => {
  const col = i % 3, row = Math.floor(i / 3);
  let cw = yAxisW + plotW + rightPad, ch = Math.round(titleSpace + plotHi + xAxisH);
  const cv = document.createElement('canvas');
  cv.style.left = '0px'; cv.style.top = '0px';
  root.appendChild(cv);
  let chart = makeChart(cv, i, cw, ch);
  let a = chart.chartArea;
  const dw = plotW - (a.right - a.left), dh = plotHi - (a.bottom - a.top);
  if (Math.abs(dw) > 0.5 || Math.abs(dh) > 0.5) {
    chart.destroy();
    cw = Math.round(cw + dw); ch = Math.round(ch + dh);
    chart = makeChart(cv, i, cw, ch);
    a = chart.chartArea;
  }
  cv.style.transform = 'scaleY(' + STRETCH + ')';
  cv.style.left = (plotLefts[col] - a.left) + 'px';
  cv.style.top = (plotTops[row] - a.top * STRETCH) + 'px';
});
</script>
</body></html>
